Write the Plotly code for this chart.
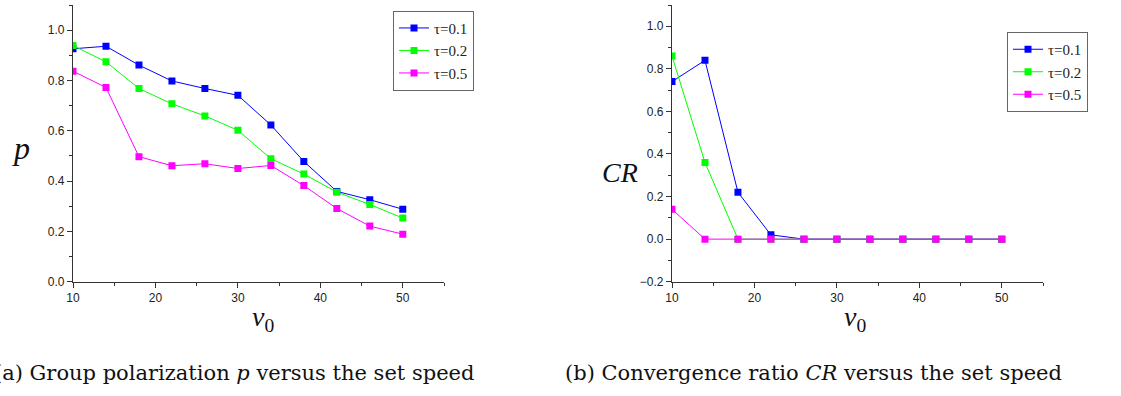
import plotly.graph_objects as go

v0 = [10, 14, 18, 22, 26, 30, 34, 38, 42, 46, 50]
taus = ["τ=0.1", "τ=0.2", "τ=0.5"]
colors = ["#0000ff", "#00ff00", "#ff00ff"]

p_vals = [
    [0.926, 0.936, 0.861, 0.798, 0.768, 0.741, 0.623, 0.478, 0.359, 0.326, 0.288],
    [0.939, 0.874, 0.768, 0.707, 0.659, 0.602, 0.489, 0.428, 0.356, 0.307, 0.253],
    [0.837, 0.772, 0.497, 0.461, 0.469, 0.450, 0.462, 0.382, 0.291, 0.221, 0.189],
]
cr_vals = [
    [0.74, 0.84, 0.22, 0.02, 0, 0, 0, 0, 0, 0, 0],
    [0.86, 0.36, 0, 0, 0, 0, 0, 0, 0, 0, 0],
    [0.14, 0, 0, 0, 0, 0, 0, 0, 0, 0, 0],
]

fig = go.Figure()
for name, col, ys in zip(taus, colors, p_vals):
    fig.add_trace(go.Scatter(x=v0, y=ys, name=name, mode="lines+markers",
                             line=dict(color=col, width=1),
                             marker=dict(symbol="square", size=7, color=col),
                             xaxis="x", yaxis="y", legend="legend"))
for name, col, ys in zip(taus, colors, cr_vals):
    fig.add_trace(go.Scatter(x=v0, y=ys, name=name, mode="lines+markers",
                             line=dict(color=col, width=1),
                             marker=dict(symbol="square", size=7, color=col),
                             xaxis="x2", yaxis="y2", legend="legend2"))

tickfont = dict(family="Liberation Sans, Arial", size=12, color="#222")
axis_common = dict(showline=True, linecolor="#333", linewidth=1.2, ticks="outside",
                   tickcolor="#333", ticklen=5, showgrid=False, zeroline=False,
                   tickfont=tickfont, automargin=False)
xcommon = dict(axis_common, range=[10, 55], tick0=10, dtick=10,
               minor=dict(ticks="outside", ticklen=3, tick0=10, dtick=5, tickcolor="#333"))

legfont = dict(family="Liberation Serif, Times New Roman", size=15, color="#222")
fig.update_layout(
    template="none",
    width=1121, height=396,
    margin=dict(l=0, r=0, t=0, b=0, pad=0),
    paper_bgcolor="white", plot_bgcolor="white",
    showlegend=True,
    xaxis=dict(xcommon, domain=[73/1121, 444/1121], anchor="y"),
    yaxis=dict(axis_common, domain=[(396-281.7)/396, 391/396], range=[0, 1.1], tick0=0, dtick=0.2,
               tickformat=".1f", anchor="x",
               minor=dict(ticks="outside", ticklen=3, tick0=0, dtick=0.1, tickcolor="#333")),
    xaxis2=dict(xcommon, domain=[672/1121, 1043/1121], anchor="y2"),
    yaxis2=dict(axis_common, domain=[(396-281.7)/396, 391/396], range=[-0.2, 1.1], tick0=-0.2, dtick=0.2,
                tickformat=".1f", anchor="x2",
                minor=dict(ticks="outside", ticklen=3, tick0=-0.2, dtick=0.1, tickcolor="#333")),
    legend=dict(x=393/1121, y=1-10.7/396, xanchor="left", yanchor="top",
                bordercolor="#666", borderwidth=1, bgcolor="white",
                font=legfont, tracegroupgap=0, itemwidth=30),
    legend2=dict(x=1007/1121, y=1-32/396, xanchor="left", yanchor="top",
                 bordercolor="#666", borderwidth=1, bgcolor="white",
                 font=legfont, tracegroupgap=0, itemwidth=30),
)

serif = "Liberation Serif, Times New Roman"
capfont = dict(family="DejaVu Serif", size=21, color="#111")
ann = [
    dict(text="<i>p</i>", x=21/1121, y=1-148/396, font=dict(family=serif, size=32, color="#111")),
    dict(text="<i>CR</i>", x=620/1121, y=1-172/396, font=dict(family=serif, size=28, color="#111")),
    dict(text="<i>v</i><sub>0</sub>", x=263/1121, y=1-318/396, font=dict(family=serif, size=28, color="#111")),
    dict(text="<i>v</i><sub>0</sub>", x=855/1121, y=1-318/396, font=dict(family=serif, size=28, color="#111")),
    dict(text="(a) Group polarization <i>p</i> versus the set speed", x=476/1121, y=1-373/396,
         xanchor="right", font=capfont),
    dict(text="(b) Convergence ratio <i>CR</i> versus the set speed", x=563/1121, y=1-373/396,
         xanchor="left", font=capfont),
]
for a in ann:
    a.setdefault("xanchor", "center")
    a.update(xref="paper", yref="paper", showarrow=False, yanchor="middle")
    fig.add_annotation(**a)

fig.write_html("out.html")
